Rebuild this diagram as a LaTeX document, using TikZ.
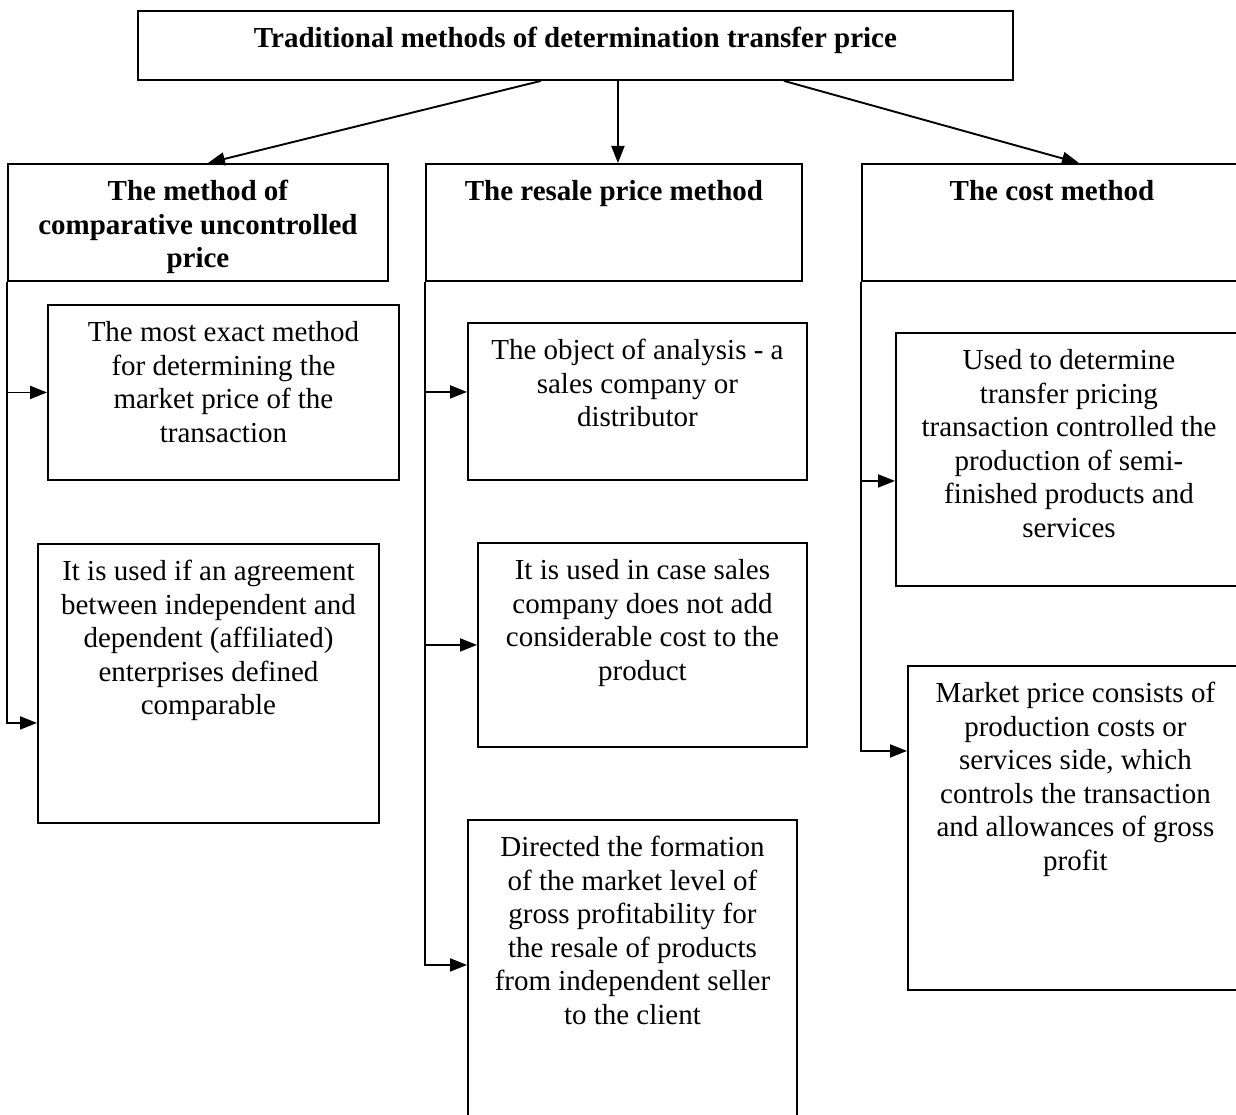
\documentclass[tikz,border=0pt]{standalone}
\usepackage{fontspec}
\setmainfont{Liberation Serif}
\usepackage{tikz}
\usetikzlibrary{arrows.meta}
\newcommand{\cell}[3]{\parbox[c][#2][t]{#1}{\centering\rule{0pt}{37pt}#3\par}}

\begin{document}
\begin{tikzpicture}[x=1pt, y=-1pt, >={Triangle[length=17pt,width=13pt]}, line width=1.9pt,
  every node/.style={font=\fontsize{29}{33.5}\selectfont},
  cell/.style={draw, inner sep=0pt, anchor=north west}]
  \path[use as bounding box, clip] (0,0) rectangle (1236,1115);
  \fill[white] (0,0) rectangle (1236,1115);
  \node[cell] (trad) at (137,10) {\cell{875pt}{69pt}{\bfseries Traditional methods of determination transfer price}};
  \node[cell] (cup) at (7,163) {\cell{380pt}{117pt}{\bfseries The method of\\ comparative uncontrolled\\ price}};
  \node[cell] (rpm) at (425,163) {\cell{376pt}{117pt}{\bfseries The resale price method}};
  \node[cell] (cost) at (861,163) {\cell{380pt}{117pt}{\bfseries The cost method}};
  \node[cell] (cupA) at (47,304) {\cell{351pt}{175pt}{The most exact method\\ for determining the\\ market price of the\\ transaction}};
  \node[cell] (cupB) at (37,543) {\cell{341pt}{279pt}{It is used if an agreement\\ between independent and\\ dependent (affiliated)\\ enterprises defined\\ comparable}};
  \node[cell] (rpmA) at (467,322) {\cell{339pt}{157pt}{The object of analysis - a\\ sales company or\\ distributor}};
  \node[cell] (rpmB) at (477,542) {\cell{329pt}{204pt}{It is used in case sales\\ company does not add\\ considerable cost to the\\ product}};
  \node[cell] (rpmC) at (467,819) {\cell{329pt}{306pt}{Directed the formation\\ of the market level of\\ gross profitability for\\ the resale of products\\ from independent seller\\ to the client}};
  \node[cell] (costA) at (895,332) {\cell{346pt}{253pt}{Used to determine\\ transfer pricing\\ transaction controlled the\\ production of semi-\\ finished products and\\ services}};
  \node[cell] (costB) at (907,665) {\cell{335pt}{324pt}{Market price consists of\\ production costs or\\ services side, which\\ controls the transaction\\ and allowances of gross\\ profit}};
  \draw[->] ([xshift=-34.5pt]trad.south) -- ([xshift=10pt]cup.north);
  \draw[->] ([xshift=42.5pt]trad.south) -- ([xshift=4pt]rpm.north);
  \draw[->] ([xshift=208.5pt]trad.south) -- ([xshift=27pt]cost.north);
  \draw[->] (cup.south west) |- (cupA.west);
  \draw[->] (cup.south west) |- ([yshift=-39.5pt]cupB.west);
  \draw[->] (rpm.south west) |- ([yshift=9.5pt]rpmA.west);
  \draw[->] (rpm.south west) |- (rpmB.west);
  \draw[->] (rpm.south west) |- ([yshift=8pt]rpmC.west);
  \draw[->] (cost.south west) |- ([yshift=-21.5pt]costA.west);
  \draw[->] (cost.south west) |- ([yshift=77pt]costB.west);
\end{tikzpicture}
\end{document}
